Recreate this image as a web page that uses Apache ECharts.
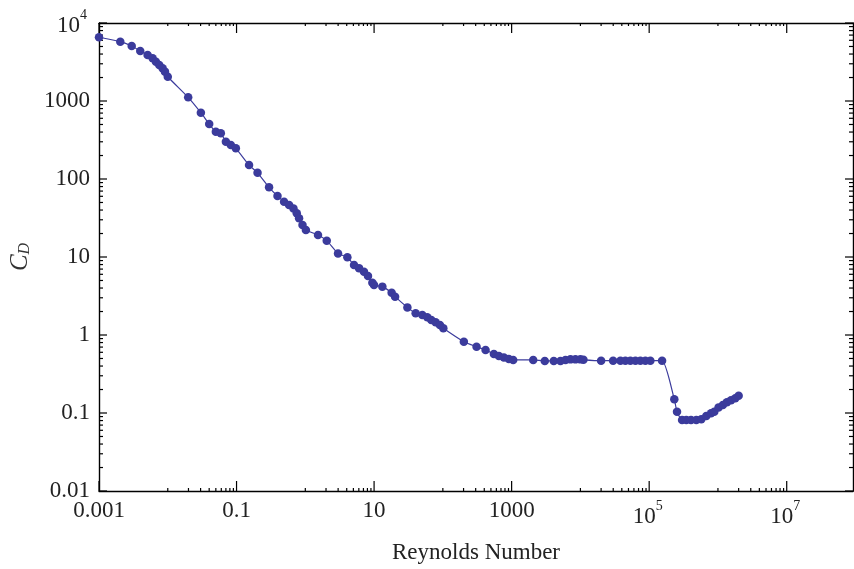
<!DOCTYPE html>
<html>
<head>
<meta charset="utf-8">
<script src="https://cdn.jsdelivr.net/npm/echarts@6/dist/echarts.min.js"></script>
<style>
  html, body { margin: 0; padding: 0; background: #fff; }
  #dragChart { width: 854px; height: 569px; }
</style>
</head>
<body>
<div id="dragChart"></div>
<script>
// Reynolds number and drag coefficient
var reynolds = [0.001, 0.00204, 0.00299, 0.00398, 0.00509, 0.00603, 0.00673, 0.00752, 0.00841, 0.0091,
  0.01, 0.0198, 0.0303, 0.040, 0.050, 0.0591, 0.070, 0.0826, 0.0977, 0.152,
  0.202, 0.297, 0.394, 0.491, 0.581, 0.673, 0.751, 0.811, 0.910, 1.02,
  1.53, 2.05, 2.99, 4.09, 5.11, 6.04, 7.13, 8.15, 9.44, 9.97,
  13.2, 18.0, 20.2, 30.5, 40.2, 50.3, 59.4, 67.9, 78.5, 90.6,
  101.6, 202, 309, 418, 552, 652, 771, 910, 1054, 2060,
  3035, 4100, 5130, 6070, 7170, 8470, 10000, 11070, 20000, 29900,
  38200, 45100, 53300, 63100, 74500, 88100, 104000, 154000, 232000, 254000,
  301000, 347000, 406000, 485000, 573000, 678000, 793000, 885000, 1.02e6, 1.18e6,
  1.35e6, 1.55e6, 1.79e6, 2.0e6];
var dragCoef = [6560, 5760, 5070, 4380, 3890, 3530, 3190, 2895, 2625, 2380,
  2045, 1115, 708, 507, 404, 385, 301, 273, 247, 151,
  120, 78.3, 60.5, 51.2, 46.4, 42, 36.3, 31.3, 25.7, 22.2,
  19.1, 16.2, 11.1, 9.9, 7.9, 7.2, 6.48, 5.7, 4.68, 4.37,
  4.17, 3.48, 3.1, 2.26, 1.90, 1.80, 1.69, 1.56, 1.46, 1.34,
  1.22, 0.82, 0.708, 0.642, 0.57, 0.538, 0.513, 0.492, 0.479, 0.479,
  0.465, 0.465, 0.465, 0.479, 0.487, 0.487, 0.487, 0.48, 0.468, 0.468,
  0.468, 0.468, 0.468, 0.468, 0.468, 0.468, 0.468, 0.468, 0.15, 0.104,
  0.0813, 0.0813, 0.0813, 0.0813, 0.083, 0.0916, 0.099, 0.104, 0.118, 0.127,
  0.137, 0.146, 0.155, 0.166];

// axis ranges and tick labels
var xMin = 0.001, xMax = 9.2e7;
var yMin = 0.01, yMax = 10000;
var xLabelValues = [0.001, 0.1, 10, 1000, 1e5, 1e7];
var xLabelTexts = ['0.001', '0.1', '10', '1000', '10^5', '10^7'];
var yLabelValues = [0.01, 0.1, 1, 10, 100, 1000, 10000];
var yLabelTexts = ['0.01', '0.1', '1', '10', '100', '1000', '10^4'];

// frame ticks: x ticks every two decades, minor ones in the decade before
var xMajorTicks = xLabelValues;
var xMinorTicks = [];
[-2, 0, 2, 4, 6].forEach(function (e) {
  for (var k = 1; k <= 9; k++) xMinorTicks.push(k * Math.pow(10, e));
});
var yMajorTicks = yLabelValues;
var yMinorTicks = [];
[-2, -1, 0, 1, 2, 3].forEach(function (e) {
  for (var k = 2; k <= 9; k++) yMinorTicks.push(k * Math.pow(10, e));
});

var serif = 'Liberation Serif';
var ink = '#222';
var dotColor = '#3b3b9c';

function richText(t) {
  if (t.indexOf('^') < 0) return t;
  var p = t.split('^');
  return '{b|' + p[0] + '}{s|' + p[1] + '}';
}

function labelFor(values, texts) {
  return function (v) {
    for (var i = 0; i < values.length; i++) {
      if (Math.abs(Math.log10(v) - Math.log10(values[i])) < 1e-6) return richText(texts[i]);
    }
    return '';
  };
}

var labelRich = {
  b: {fontFamily: serif, fontSize: 23, color: ink, padding: [6, 0, 0, 0]},
  s: {fontFamily: serif, fontSize: 14, color: ink, verticalAlign: 'top', padding: [0, 3, 0, 0]}
};

function xTicks(len) {
  return function (params, api) {
    var b = api.coord([api.value(0), yMin]);
    var t = api.coord([api.value(0), yMax]);
    var st = {stroke: '#000', lineWidth: 1.2};
    return {type: 'group', children: [
      {type: 'line', shape: {x1: b[0], y1: b[1], x2: b[0], y2: b[1] - len}, style: st},
      {type: 'line', shape: {x1: t[0], y1: t[1], x2: t[0], y2: t[1] + len}, style: st}
    ]};
  };
}

function yTicks(len) {
  return function (params, api) {
    var l = api.coord([xMin, api.value(1)]);
    var r = api.coord([xMax, api.value(1)]);
    var st = {stroke: '#000', lineWidth: 1.2};
    return {type: 'group', children: [
      {type: 'line', shape: {x1: l[0], y1: l[1], x2: l[0] + len, y2: l[1]}, style: st},
      {type: 'line', shape: {x1: r[0], y1: r[1], x2: r[0] - len, y2: r[1]}, style: st}
    ]};
  };
}

var frameLine = {show: true, lineStyle: {color: '#000', width: 1.4}};

var option = {
  animation: false,
  grid: {left: 98, right: 1, top: 23, bottom: 77},
  xAxis: [
    {
      type: 'log', logBase: 10, min: xMin, max: xMax,
      name: 'Reynolds Number', nameLocation: 'middle', nameGap: 50,
      nameTextStyle: {fontFamily: serif, fontSize: 23, color: ink},
      axisLine: frameLine,
      axisTick: {show: false},
      splitLine: {show: false},
      axisLabel: {
        margin: 8, color: ink, fontFamily: serif, fontSize: 23,
        customValues: xLabelValues, hideOverlap: false,
        formatter: labelFor(xLabelValues, xLabelTexts), rich: labelRich
      }
    },
    {
      type: 'log', logBase: 10, min: xMin, max: xMax, position: 'top',
      axisLine: frameLine, axisTick: {show: false}, splitLine: {show: false},
      axisLabel: {show: false}
    }
  ],
  yAxis: [
    {
      type: 'log', logBase: 10, min: yMin, max: yMax,
      name: '{i|C}{d|D}', nameLocation: 'middle', nameGap: 66, nameRotate: 90,
      nameTextStyle: {
        rich: {
          i: {fontFamily: serif, fontStyle: 'italic', fontSize: 25, color: '#333'},
          d: {fontFamily: serif, fontStyle: 'italic', fontSize: 16, color: '#333', verticalAlign: 'bottom'}
        }
      },
      axisLine: frameLine,
      axisTick: {show: false},
      splitLine: {show: false},
      axisLabel: {
        margin: 9, color: ink, fontFamily: serif, fontSize: 23,
        customValues: yLabelValues,
        formatter: labelFor(yLabelValues, yLabelTexts), rich: labelRich
      }
    },
    {
      type: 'log', logBase: 10, min: yMin, max: yMax, position: 'right',
      axisLine: frameLine, axisTick: {show: false}, splitLine: {show: false},
      axisLabel: {show: false}
    }
  ],
  series: [
    {
      type: 'custom', renderItem: xTicks(10), silent: true,
      data: xMajorTicks.map(function (v) { return [v, 1]; })
    },
    {
      type: 'custom', renderItem: xTicks(3), silent: true,
      data: xMinorTicks.map(function (v) { return [v, 1]; })
    },
    {
      type: 'custom', renderItem: yTicks(8), silent: true,
      data: yMajorTicks.map(function (v) { return [1, v]; })
    },
    {
      type: 'custom', renderItem: yTicks(4), silent: true,
      data: yMinorTicks.map(function (v) { return [1, v]; })
    },
    {
      name: 'CD',
      type: 'line',
      clip: false,
      smooth: 0.2,
      symbol: 'circle',
      symbolSize: 8.5,
      data: reynolds.map(function (r, i) { return [r, dragCoef[i]]; }),
      itemStyle: {color: dotColor},
      lineStyle: {color: dotColor, width: 1.2}
    }
  ]
};

var dragChart = echarts.init(document.getElementById('dragChart'));
dragChart.setOption(option);
</script>
</body>
</html>
